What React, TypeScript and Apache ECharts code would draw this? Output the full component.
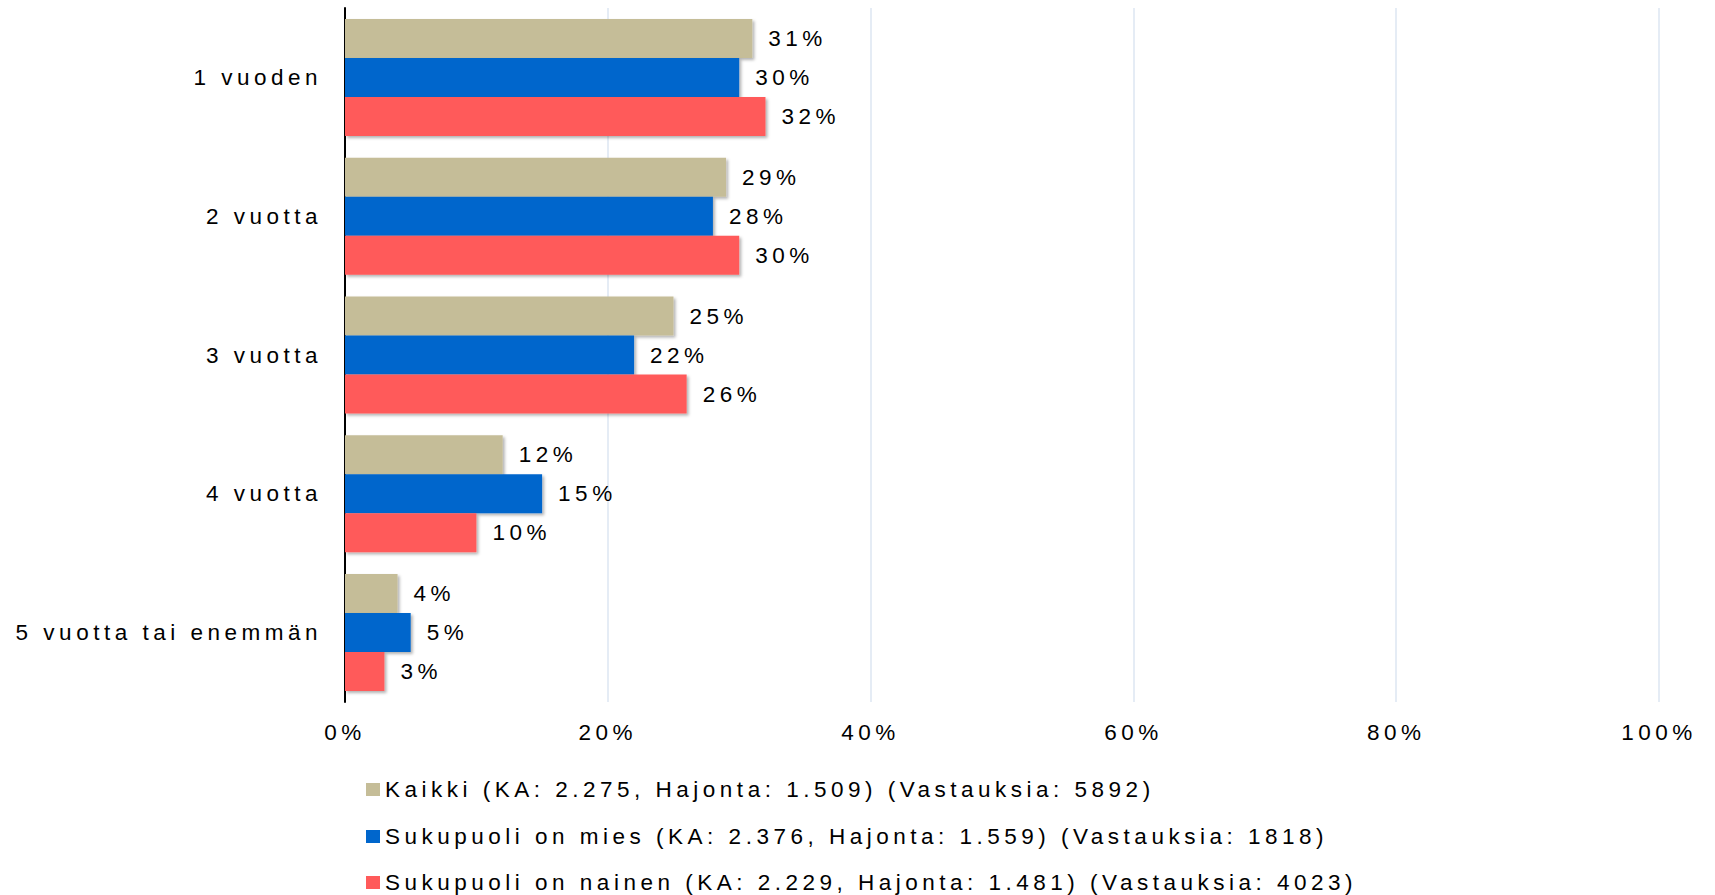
import React, { useEffect, useRef } from "react";
import * as echarts from "echarts";

const categories = ["1 vuoden", "2 vuotta", "3 vuotta", "4 vuotta", "5 vuotta tai enemmän"];
const seriesNames = [
  "Kaikki (KA: 2.275, Hajonta: 1.509) (Vastauksia: 5892)",
  "Sukupuoli on mies (KA: 2.376, Hajonta: 1.559) (Vastauksia: 1818)",
  "Sukupuoli on nainen (KA: 2.229, Hajonta: 1.481) (Vastauksia: 4023)",
];
const kaikki = [31, 29, 25, 12, 4];
const mies = [30, 28, 22, 15, 5];
const nainen = [32, 30, 26, 10, 3];
const colors = ["#C5BD98", "#0066CC", "#FF5A5A"];
const legendTops = [778, 825, 871];

const FONT = "'Liberation Sans', Arial, sans-serif";
const FS = 22.5;

export default function App() {
  const ref = useRef<HTMLDivElement>(null);
  useEffect(() => {
    if (!ref.current) return;
    const chart = echarts.init(ref.current, undefined, { renderer: "svg" });
    const values = [kaikki, mies, nainen];
    chart.setOption({
      animation: false,
      textStyle: { fontFamily: FONT },
      grid: { left: 345, right: 56, top: 8, bottom: 193, containLabel: false },
      xAxis: {
        type: "value",
        min: 0,
        max: 100,
        interval: 20,
        axisLine: { show: false },
        axisTick: { show: false },
        splitLine: { show: true, lineStyle: { color: "#DCE6F2", width: 1.5 } },
        axisLabel: {
          formatter: "{value}%",
          fontSize: FS,
          color: "#000",
          margin: 19,
          fontFamily: FONT,
        },
      },
      yAxis: {
        type: "category",
        data: categories,
        inverse: true,
        axisLine: { show: true, lineStyle: { color: "#000", width: 2 } },
        axisTick: { show: false },
        axisLabel: { fontSize: FS, color: "#000", margin: 23, fontFamily: FONT },
      },
      legend: seriesNames.map((name, i) => ({
        orient: "vertical",
        left: 366,
        top: legendTops[i],
        padding: 0,
        itemWidth: 14,
        itemHeight: 13,
        itemGap: 5,
        icon: "rect",
        textStyle: { fontSize: FS, color: "#000", fontFamily: FONT },
        data: [name],
      })),
      series: seriesNames.map((name, i) => ({
        name,
        type: "bar",
        data: values[i],
        barWidth: 39,
        barGap: "0%",
        itemStyle: {
          color: colors[i],
          shadowBlur: 3,
          shadowOffsetX: 2,
          shadowOffsetY: 2,
          shadowColor: "rgba(0,0,0,0.3)",
        },
        label: {
          show: true,
          position: "right",
          distance: 16,
          formatter: "{c}%",
          fontSize: FS,
          color: "#000",
          fontFamily: FONT,
        },
      })),
    });
    return () => chart.dispose();
  }, []);
  return (
    <>
      <style>{`#chart text { letter-spacing: 4.5px; } body { margin: 0; }`}</style>
      <div id="chart" ref={ref} style={{ width: 1715, height: 895 }} />
    </>
  );
}
